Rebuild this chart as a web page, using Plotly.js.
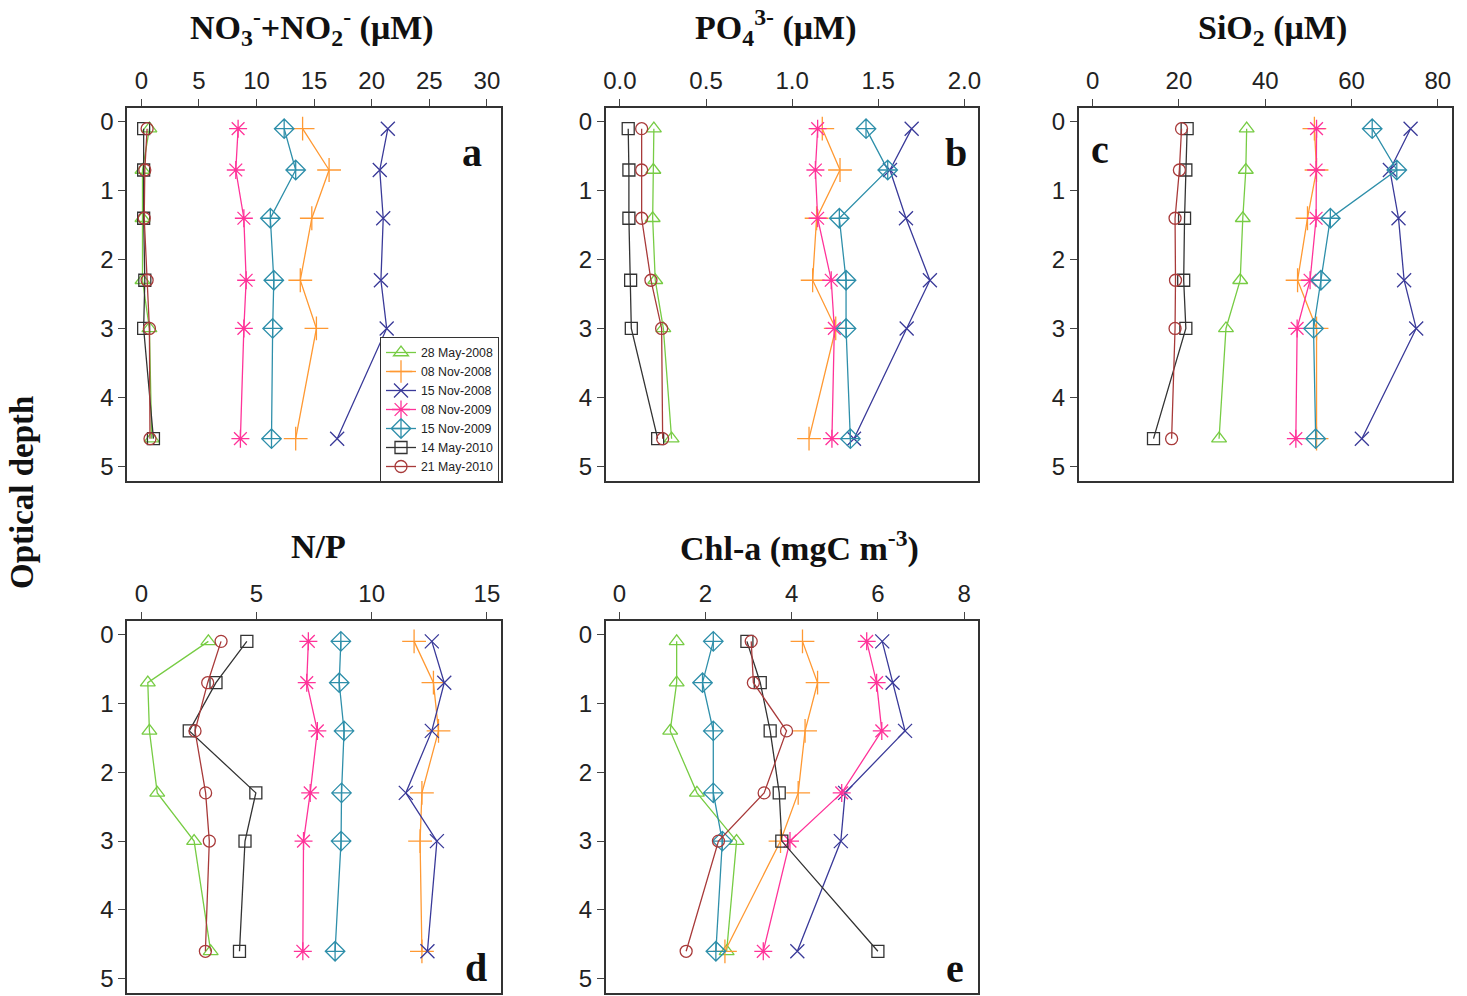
<!DOCTYPE html>
<html>
<head>
<meta charset="utf-8">
<script src="https://cdn.plot.ly/plotly-3.0.1.min.js"></script>
<style>html,body{margin:0;padding:0;background:#fff;}</style>
</head>
<body>
<div id="chart" style="width:1467px;height:996px;"></div>
<script>
// ---- data ----
const depth = [0.1, 0.7, 1.4, 2.3, 3.0, 4.6];
const seriesNames = ["28 May-2008", "08 Nov-2008", "15 Nov-2008", "08 Nov-2009", "15 Nov-2009", "14 May-2010", "21 May-2010"];

// values per series (same order as seriesNames), each row follows depth
const no3no2 = [
  [0.7, 0.1, 0.1, 0.1, 0.7, 0.9],
  [14.0, 16.3, 14.8, 13.8, 15.2, 13.4],
  [21.4, 20.7, 21.0, 20.8, 21.3, 17.0],
  [8.4, 8.2, 8.9, 9.1, 8.9, 8.6],
  [12.4, 13.4, 11.2, 11.5, 11.4, 11.3],
  [0.2, 0.2, 0.2, 0.3, 0.2, 1.05],
  [0.5, 0.3, 0.25, 0.5, 0.7, 0.75]
];
const po4 = [
  [0.197, 0.194, 0.19, 0.205, 0.252, 0.30],
  [1.175, 1.278, 1.142, 1.119, 1.253, 1.098],
  [1.694, 1.568, 1.661, 1.80, 1.665, 1.359],
  [1.148, 1.135, 1.148, 1.227, 1.245, 1.231],
  [1.429, 1.555, 1.274, 1.313, 1.313, 1.338],
  [0.048, 0.052, 0.052, 0.062, 0.066, 0.219],
  [0.126, 0.126, 0.126, 0.18, 0.242, 0.248]
];
const sio2 = [
  [35.7, 35.5, 34.8, 34.2, 30.9, 29.3],
  [51.4, 51.9, 49.8, 47.5, 51.9, 51.9],
  [73.7, 68.9, 70.9, 72.2, 75.0, 62.4],
  [51.9, 51.8, 51.8, 50.4, 47.4, 47.1],
  [64.8, 70.5, 55.1, 52.9, 51.2, 51.7],
  [21.9, 21.6, 21.3, 21.1, 21.6, 14.1],
  [20.6, 20.1, 19.1, 19.2, 19.1, 18.3]
];
const np = [
  [2.91, 0.28, 0.35, 0.69, 2.29, 3.01],
  [11.84, 12.68, 12.90, 12.18, 12.10, 12.18],
  [12.61, 13.15, 12.61, 11.48, 12.83, 12.42],
  [7.25, 7.18, 7.64, 7.33, 7.04, 7.01],
  [8.66, 8.59, 8.80, 8.69, 8.67, 8.41],
  [4.58, 3.24, 2.08, 4.97, 4.50, 4.26],
  [3.46, 2.88, 2.33, 2.79, 2.95, 2.78]
];
const chla = [
  [1.33, 1.33, 1.18, 1.80, 2.72, 2.49],
  [4.25, 4.60, 4.31, 4.15, 3.74, 2.45],
  [6.10, 6.34, 6.63, 5.24, 5.14, 4.13],
  [5.74, 5.97, 6.09, 5.16, 3.96, 3.34],
  [2.18, 1.93, 2.18, 2.18, 2.39, 2.24],
  [2.96, 3.27, 3.50, 3.71, 3.77, 6.00],
  [3.06, 3.11, 3.88, 3.36, 2.30, 1.55]
];

const titles = ["NO<sub>3</sub><sup>-</sup>+NO<sub>2</sub><sup>-</sup> (μM)", "PO<sub>4</sub><sup>3-</sup> (μM)", "SiO<sub>2</sub> (μM)", "N/P", "Chl-a (mgC m<sup>-3</sup>)"];
const panelLetters = ["a", "b", "c", "d", "e"];
const xTicks = [[0, 5, 10, 15, 20, 25, 30], [0, 0.5, 1, 1.5, 2], [0, 20, 40, 60, 80], [0, 5, 10, 15], [0, 2, 4, 6, 8]];
const yTicks = [0, 1, 2, 3, 4, 5];

// ---- styles ----
const colors = ["#77CC44", "#FF9933", "#3A3A99", "#FF3399", "#2E8FAA", "#333333", "#A83A3A"];
const symbols = ["triangle-up-open", "cross-thin-open", "x-thin-open", "asterisk-open", "diamond-cross-open", "square-open", "circle-open"];
const sizes = [13, 17, 14, 15, 15, 12, 12];

const panels = [no3no2, po4, sio2, np, chla];
const xRanges = [[-1.22, 31.2], [-0.081, 2.081], [-3.17, 83.3], [-0.61, 15.6], [-0.31, 8.33]];
const W = 1467, H = 996;
const boxes = [
  [127.3, 500.7, 108, 480.7],
  [606, 978.3, 108, 480.7],
  [1079, 1452, 108, 480.7],
  [127.3, 500.7, 620.7, 993.3],
  [606, 978.3, 620.7, 993.3]
];
const titlePos = [[312, 27], [775, 27], [1272, 30], [318, 546], [799, 546]];
const letterPos = [[472, 152], [956, 152], [1100, 150], [476, 967], [955, 968]];

const traces = [];
const layout = {
  width: W, height: H,
  margin: {l: 0, r: 0, t: 0, b: 0},
  paper_bgcolor: "#fff", plot_bgcolor: "#fff",
  showlegend: true,
  legend: {
    x: 499 / W, xanchor: "right", y: 1 - 337 / H, yanchor: "top",
    bgcolor: "#fff", bordercolor: "#333", borderwidth: 1,
    font: {family: "Liberation Sans, Arial, sans-serif", size: 12.3, color: "#222"},
    itemwidth: 30, tracegroupgap: 0
  },
  annotations: []
};

const serif = "Liberation Serif, Times New Roman, serif";
const sans = "Liberation Sans, Arial, sans-serif";

panels.forEach((data, p) => {
  const sfx = p === 0 ? "" : String(p + 1);
  const [x0, x1, y0, y1] = boxes[p];
  data.forEach((vals, s) => {
    traces.push({
      type: "scatter", mode: "lines+markers",
      x: vals, y: depth,
      xaxis: "x" + sfx, yaxis: "y" + sfx,
      name: seriesNames[s],
      showlegend: p === 0,
      line: {color: colors[s], width: 1.3},
      marker: {symbol: symbols[s], size: sizes[s], color: colors[s], line: {color: colors[s], width: 1.3}}
    });
  });
  const common = {
    showline: true, mirror: true, linecolor: "#333", linewidth: 2,
    showgrid: false, zeroline: false,
    ticks: "outside", ticklen: 7, tickwidth: 1, tickcolor: "#444",
    tickfont: {family: sans, size: 24, color: "#222"},
    ticklabelstandoff: 0
  };
  layout["xaxis" + sfx] = Object.assign({}, common, {
    domain: [x0 / W, x1 / W], anchor: "y" + sfx, side: "top",
    range: xRanges[p], tickvals: xTicks[p],
    ticktext: xTicks[p].map(v => p === 1 ? v.toFixed(1) : String(v))
  });
  layout["yaxis" + sfx] = Object.assign({}, common, {
    domain: [1 - y1 / H, 1 - y0 / H], anchor: "x" + sfx,
    range: [5.21, -0.2], tickvals: yTicks
  });
  layout.annotations.push({
    xref: "paper", yref: "paper", x: titlePos[p][0] / W, y: 1 - titlePos[p][1] / H,
    xanchor: "center", yanchor: "middle", showarrow: false, text: titles[p],
    font: {family: serif, size: 34, color: "#111", weight: 700}
  });
  layout.annotations.push({
    xref: "paper", yref: "paper", x: letterPos[p][0] / W, y: 1 - letterPos[p][1] / H,
    xanchor: "center", yanchor: "middle", showarrow: false, text: panelLetters[p],
    font: {family: serif, size: 40, color: "#111", weight: 700}
  });
});

layout.annotations.push({
  xref: "paper", yref: "paper", x: 22 / W, y: 1 - 493 / H,
  xanchor: "center", yanchor: "middle", showarrow: false, textangle: -90,
  text: "Optical depth",
  font: {family: serif, size: 33, color: "#111", weight: 700}
});

Plotly.newPlot("chart", traces, layout, {displayModeBar: false, staticPlot: true});
</script>
</body>
</html>
